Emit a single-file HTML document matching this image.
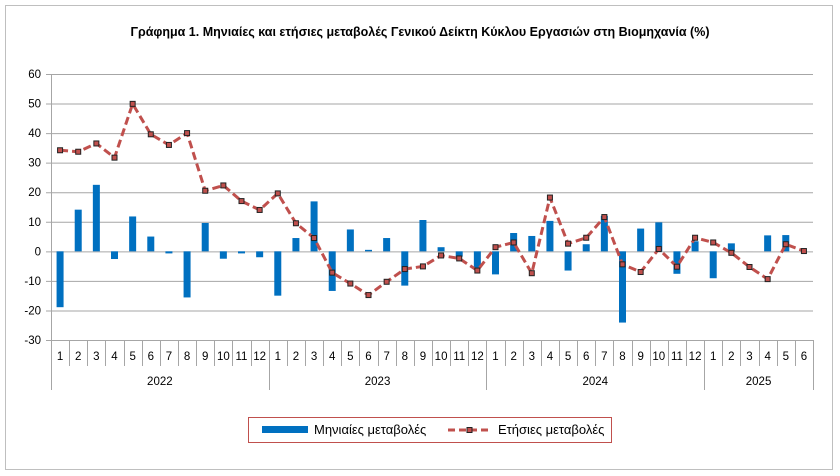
<!DOCTYPE html>
<html><head><meta charset="utf-8">
<style>
body{margin:0;background:#fff;}
#wrap{position:relative;width:840px;height:476px;overflow:hidden;font-family:"Liberation Sans","DejaVu Sans",sans-serif;}
</style></head>
<body>
<div id="wrap">
<svg id="chart" width="840" height="476" xmlns="http://www.w3.org/2000/svg">
<rect x="5.5" y="5.5" width="827" height="464" fill="#fff" stroke="#bfbfbf"/>
<text x="420" y="36" text-anchor="middle" font-size="12.5" font-weight="bold" fill="#000">Γράφημα 1. Μηνιαίες και ετήσιες μεταβολές  Γενικού Δείκτη Κύκλου Εργασιών στη Βιομηχανία (%)</text>
<g id="grid"></g><g id="bars"></g><g id="line"></g><g id="xaxis"></g>
<g>
<rect x="248.5" y="417.5" width="363" height="25" fill="#fff" stroke="#c0504d"/>
<rect x="262" y="426" width="46" height="7" fill="#0070c0"/>
<text x="314" y="434" font-size="13" fill="#000">Μηνιαίες μεταβολές</text>
<line x1="448" y1="430" x2="492" y2="430" stroke="#c0504d" stroke-width="3" stroke-dasharray="7,4"/>
<rect x="467" y="427.5" width="5" height="5" fill="#c0504d" stroke="#222" stroke-width="1"/>
<text x="498" y="434" font-size="13" fill="#000">Ετήσιες μεταβολές</text>
</g>
</svg>
</div>
<script>
const months = [1,2,3,4,5,6,7,8,9,10,11,12,1,2,3,4,5,6,7,8,9,10,11,12,1,2,3,4,5,6,7,8,9,10,11,12,1,2,3,4,5,6];
const years = ["2022","2023","2024","2025"];
const yearCounts = [12,12,12,6];
const monthly = [-18.9,14.1,22.5,-2.6,11.8,5.0,-0.7,-15.6,9.6,-2.5,-0.7,-2.0,
 -15.0,4.5,16.9,-13.4,7.4,0.5,4.5,-11.6,10.6,1.4,-1.8,-5.5,
 -7.8,6.2,5.2,10.3,-6.5,2.4,12.0,-24.1,7.7,9.8,-7.6,3.4,
 -9.1,2.7,0,5.4,5.5,0];
const annual = [34.2,33.7,36.5,31.7,49.9,39.6,36.0,40.0,20.5,22.3,17.0,14.0,
 19.6,9.5,4.5,-7.2,-10.9,-14.8,-10.3,-6.0,-5.1,-1.4,-2.4,-6.5,
 1.4,3.0,-7.4,18.2,2.6,4.6,11.6,-4.4,-7.0,0.8,-5.2,4.6,
 3.0,-0.5,-5.3,-9.4,2.4,0.1];
const yTicks = [60,50,40,30,20,10,0,-10,-20,-30];

const NS="http://www.w3.org/2000/svg";
const X0=51, X1=813, YT=74, YB=340, VMAX=60, VMIN=-30;
const cw=(X1-X0)/months.length;
const xc=i=>X0+cw*(i+0.5);
const y=v=>YT+(VMAX-v)/(VMAX-VMIN)*(YB-YT);
function mk(tag,attrs,parent){const e=document.createElementNS(NS,tag);for(const k in attrs)e.setAttribute(k,attrs[k]);parent.appendChild(e);return e;}
const grid=document.getElementById('grid'),bars=document.getElementById('bars'),line=document.getElementById('line'),xa=document.getElementById('xaxis');

yTicks.forEach(t=>{
 const l=mk('line',{x1:X0-5,x2:X1,y1:y(t)+0.5,y2:y(t)+0.5,stroke:t===0?'#a6a6a6':'#a6a6a6','stroke-width':1},grid);
 
 
 const tx=mk('text',{x:X0-10,y:y(t)+4,'text-anchor':'end','font-size':11.5,fill:'#000'},grid);
 tx.textContent=t;
 
 
});
const ax=mk('line',{x1:X0+0.5,x2:X0+0.5,y1:YT,y2:YB,stroke:'#a6a6a6'},grid);



monthly.forEach((v,i)=>{
 const top=Math.min(y(v),y(0)),h=Math.abs(y(v)-y(0));
 const r=mk('rect',{x:xc(i)-3.5,y:top,width:7,height:Math.max(h,0.01),fill:'#0070c0'},bars);
 
 
});
const pts=annual.map((v,i)=>xc(i)+','+y(v)).join(' ');
const pl=mk('polyline',{points:pts,fill:'none',stroke:'#c0504d','stroke-width':3,'stroke-dasharray':'8,4','stroke-linejoin':'round'},line);


annual.forEach((v,i)=>{
 const m=mk('rect',{x:xc(i)-2.5,y:y(v)-2.5,width:5,height:5,fill:'#c0504d',stroke:'#222','stroke-width':1},line);
 
 
});

// x axis categories
months.forEach((m,i)=>{
 const t=mk('text',{x:xc(i),y:360,'text-anchor':'middle','font-size':11.5,fill:'#000'},xa);
 t.textContent=m;
 
 
 const l=mk('line',{x1:Math.round(X0+cw*i)+0.5,x2:Math.round(X0+cw*i)+0.5,y1:YB,y2:366,stroke:'#a6a6a6'},xa);
 
 
});
let start=0;
years.forEach((yr,k)=>{
 const n=yearCounts[k];
 const xs=X0+cw*start, xe=X0+cw*(start+n);
 const l=mk('line',{x1:Math.round(xs)+0.5,x2:Math.round(xs)+0.5,y1:YB,y2:390,stroke:'#a6a6a6'},xa);
 
 
 const t=mk('text',{x:(xs+xe)/2,y:385,'text-anchor':'middle','font-size':11.5,fill:'#000'},xa);
 t.textContent=yr;
 
 
 start+=n;
});
const le=mk('line',{x1:X1+0.5,x2:X1+0.5,y1:YB,y2:390,stroke:'#a6a6a6'},xa);


</script>
</body></html>
